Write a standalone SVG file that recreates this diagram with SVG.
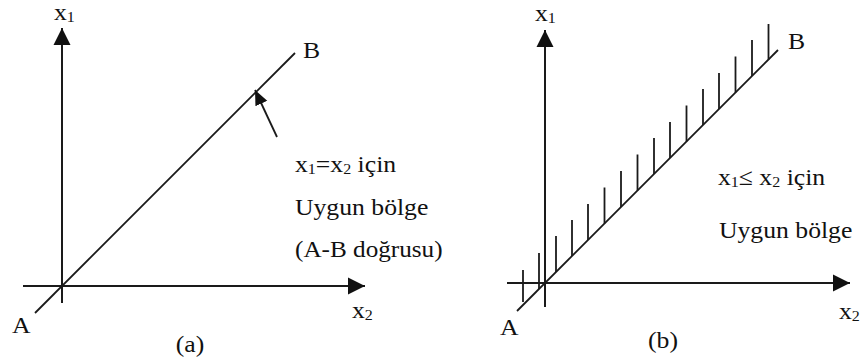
<svg xmlns="http://www.w3.org/2000/svg" width="861" height="362" viewBox="0 0 861 362">
  <style>
    .ax { stroke: #1a1a1a; stroke-width: 2; fill: none; }
    .diag { stroke: #1a1a1a; stroke-width: 1.8; fill: none; }
    .hatch { stroke: #1a1a1a; stroke-width: 1.8; fill: none; }
    .t { font-family: "Liberation Serif", "Times New Roman", serif; font-size: 24px; fill: #111; }
    .sub { font-size: 15px; }
  </style>
  <defs>
    <marker id="axhead" markerUnits="userSpaceOnUse" markerWidth="18" markerHeight="18" viewBox="0 -9 18 18" refX="17" refY="0" orient="auto">
      <path d="M0,-8.5 L17,0 L0,8.5 z" fill="#111"/>
    </marker>
    <marker id="ptrhead" markerUnits="userSpaceOnUse" markerWidth="16" markerHeight="16" viewBox="0 -8 16 16" refX="15" refY="0" orient="auto">
      <path d="M0,-6.5 L15,0 L0,6.5 z" fill="#111"/>
    </marker>
  </defs>

  <g id="panel-a">
    <g id="axes-a">
      <line class="ax" x1="62" y1="303" x2="62" y2="28" marker-end="url(#axhead)"/>
      <line class="ax" x1="23" y1="286" x2="365" y2="286" marker-end="url(#axhead)"/>
    </g>
    <g id="line-AB-a">
      <line class="diag" x1="35" y1="313" x2="295" y2="53"/>
    </g>
    <g id="pointer-a">
      <line class="diag" x1="277" y1="137" x2="255" y2="90" marker-end="url(#ptrhead)"/>
    </g>
    <g id="labels-a">
      <text class="t" transform="translate(54,20) scale(1.07,1)">x<tspan class="sub" dy="2">1</tspan></text>
      <text class="t" transform="translate(352,318) scale(1.07,1)">x<tspan class="sub" dy="2">2</tspan></text>
      <text class="t" transform="translate(12,333) scale(1.07,1)">A</text>
      <text class="t" transform="translate(303,58) scale(1.07,1)">B</text>
      <text class="t" transform="translate(190,352) scale(1.07,1)" text-anchor="middle">(a)</text>
      <text class="t" transform="translate(295,172) scale(1.07,1)">x<tspan class="sub" dy="2">1</tspan><tspan dy="-2">=x</tspan><tspan class="sub" dy="2">2</tspan><tspan dy="-2"> için</tspan></text>
      <text class="t" transform="translate(295,215) scale(1.07,1)">Uygun bölge</text>
      <text class="t" transform="translate(295,257) scale(1.05,1)">(A-B doğrusu)</text>
    </g>
  </g>

  <g id="panel-b">
    <g id="axes-b">
      <line class="ax" x1="545" y1="307" x2="545" y2="30" marker-end="url(#axhead)"/>
      <line class="ax" x1="507" y1="283" x2="850" y2="283" marker-end="url(#axhead)"/>
    </g>
    <g id="line-AB-b">
      <line class="diag" x1="517" y1="311" x2="778" y2="50"/>
    </g>
    <g id="hatches-b">
      <line class="hatch" x1="523" y1="302" x2="523" y2="270"/>
      <line class="hatch" x1="539" y1="289" x2="539" y2="253"/>
      <line class="hatch" x1="556" y1="272" x2="556" y2="236"/>
      <line class="hatch" x1="572" y1="256" x2="572" y2="220"/>
      <line class="hatch" x1="588" y1="240" x2="588" y2="204"/>
      <line class="hatch" x1="604.5" y1="223.5" x2="604.5" y2="187.5"/>
      <line class="hatch" x1="621" y1="207" x2="621" y2="171"/>
      <line class="hatch" x1="637.5" y1="190.5" x2="637.5" y2="154.5"/>
      <line class="hatch" x1="654" y1="174" x2="654" y2="138"/>
      <line class="hatch" x1="670" y1="158" x2="670" y2="122"/>
      <line class="hatch" x1="686.5" y1="141.5" x2="686.5" y2="105.5"/>
      <line class="hatch" x1="703" y1="125" x2="703" y2="89"/>
      <line class="hatch" x1="719" y1="109" x2="719" y2="73"/>
      <line class="hatch" x1="735.5" y1="92.5" x2="735.5" y2="56.5"/>
      <line class="hatch" x1="752" y1="76" x2="752" y2="40"/>
      <line class="hatch" x1="768.5" y1="59.5" x2="768.5" y2="24"/>
    </g>
    <g id="labels-b">
      <text class="t" transform="translate(535,21) scale(1.07,1)">x<tspan class="sub" dy="2">1</tspan></text>
      <text class="t" transform="translate(839,319) scale(1.07,1)">x<tspan class="sub" dy="2">2</tspan></text>
      <text class="t" transform="translate(500,335) scale(1.07,1)">A</text>
      <text class="t" transform="translate(788,49) scale(1.07,1)">B</text>
      <text class="t" transform="translate(663,348) scale(1.07,1)" text-anchor="middle">(b)</text>
      <text class="t" transform="translate(718,185) scale(1.07,1)">x<tspan class="sub" dy="2">1</tspan><tspan dy="-2">≤ x</tspan><tspan class="sub" dy="2">2</tspan><tspan dy="-2"> için</tspan></text>
      <text class="t" transform="translate(719,238) scale(1.07,1)">Uygun bölge</text>
    </g>
  </g>
</svg>
